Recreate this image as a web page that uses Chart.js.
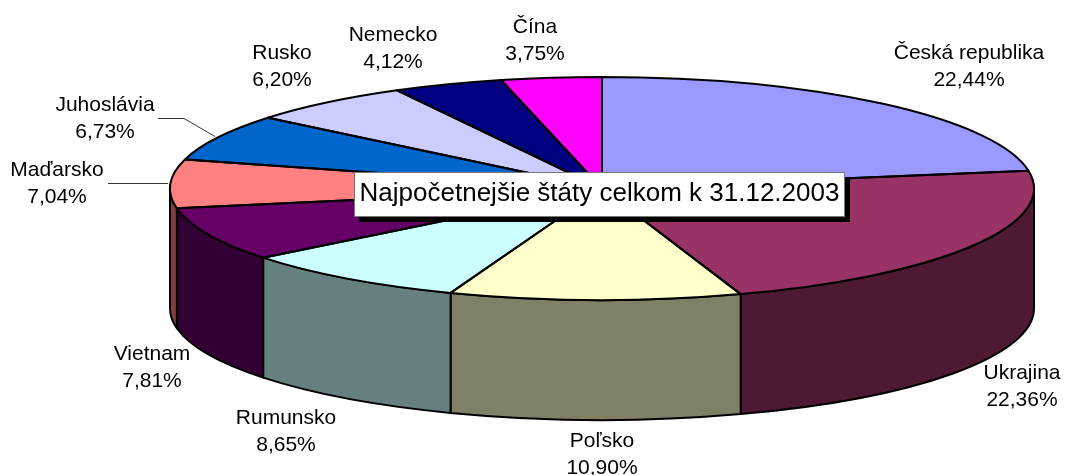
<!DOCTYPE html>
<html lang="sk">
<head>
<meta charset="utf-8">
<title>Najpočetnejšie štáty celkom k 31.12.2003</title>
<script src="https://cdn.jsdelivr.net/npm/chart.js@4"></script>
<style>
html,body{margin:0;padding:0;background:#fff;overflow:hidden}
canvas{display:block}
</style>
</head>
<body>
<canvas id="c" width="1068" height="475"></canvas>
<script>
const chartTitle = "Najpočetnejšie štáty celkom k 31.12.2003";
const categories = ["Česká republika","Ukrajina","Poľsko","Rumunsko","Vietnam","Maďarsko","Juhoslávia","Rusko","Nemecko","Čína"];
const shares = [22.44,22.36,10.90,8.65,7.81,7.04,6.73,6.20,4.12,3.75];
const topColors = ["#9999FF","#993366","#FFFFCC","#CCFFFF","#660066","#FF8080","#0066CC","#CCCCFF","#000080","#FF00FF"];
const wallColors = ["#4D4D80","#4D1933","#808066","#668080","#330033","#804040","#003366","#666680","#000040","#800080"];
const labelCentres = [[969,53],[1022,373],[602,441],[286,418],[152,354],[57,170],[105,105],[282,53],[393,35],[535,27]];
const leaderLines = [
  [[108,183],[168,183]],
  [[158,118],[184,118],[215,136]]
];

const pie = {cx:602, cy:188.5, rx:432, ry:111.5, depth:120};
const FONT = '"Liberation Sans", Arial, sans-serif';

const pie3d = {
  id:'pie3d',
  beforeDatasetsDraw(chart){
    const ctx = chart.ctx, arcs = chart.getDatasetMeta(0).data;
    ctx.save();
    ctx.lineWidth = 2; ctx.strokeStyle = '#000'; ctx.lineJoin = 'round';
    arcs.forEach((el,i)=>{
      const a = Math.max(el.startAngle,0), b = Math.min(el.endAngle,Math.PI);
      if (a >= b) return;
      ctx.beginPath();
      ctx.ellipse(el.x,pie.cy,pie.rx,pie.ry,0,a,b);
      ctx.ellipse(el.x,pie.cy+pie.depth,pie.rx,pie.ry,0,b,a,true);
      ctx.closePath();
      ctx.fillStyle = wallColors[i];
      ctx.fill(); ctx.stroke();
    });
    ctx.restore();
    const el = arcs[0];
    ctx.save();
    ctx.translate(0,pie.cy);
    ctx.scale(1,pie.ry/pie.rx);
    ctx.translate(0,-el.y);
  },
  afterDatasetsDraw(chart){
    const ctx = chart.ctx, arcs = chart.getDatasetMeta(0).data;
    ctx.restore();
    ctx.save();
    ctx.lineWidth = 2; ctx.strokeStyle = '#000'; ctx.lineJoin = 'round';
    arcs.forEach(el=>{
      ctx.beginPath();
      ctx.moveTo(el.x,pie.cy);
      ctx.ellipse(el.x,pie.cy,pie.rx,pie.ry,0,el.startAngle,el.endAngle);
      ctx.closePath();
      ctx.stroke();
    });
    ctx.restore();
  },
  afterDraw(chart){
    const ctx = chart.ctx;
    ctx.save();
    ctx.strokeStyle = '#333'; ctx.lineWidth = 1;
    leaderLines.forEach(pts=>{
      ctx.beginPath();
      pts.forEach((p,i)=> i ? ctx.lineTo(p[0],p[1]+.5) : ctx.moveTo(p[0],p[1]+.5));
      ctx.stroke();
    });
    ctx.fillStyle = '#000';
    ctx.font = '21px '+FONT;
    ctx.textAlign = 'center'; ctx.textBaseline = 'middle';
    categories.forEach((name,i)=>{
      const [x,y] = labelCentres[i];
      ctx.fillText(name,x,y);
      ctx.fillText(shares[i].toFixed(2).replace('.',',')+'%',x,y+27);
    });
    ctx.fillStyle = '#000';
    ctx.fillRect(359,177,491,45);
    ctx.fillStyle = '#fff';
    ctx.fillRect(354,172,491,45);
    ctx.strokeStyle = '#777';
    ctx.strokeRect(354.5,172.5,490,44);
    ctx.fillStyle = '#000';
    ctx.font = '26px '+FONT;
    ctx.fillText(chartTitle,599.5,194);
    ctx.restore();
  }
};

new Chart(document.getElementById('c'),{
  type:'pie',
  data:{labels:categories,datasets:[{data:shares,backgroundColor:topColors,borderWidth:0,clip:false}]},
  options:{
    responsive:false,
    animation:false,
    radius:pie.rx,
    layout:{padding:{left:2*pie.cx-1068}},
    plugins:{legend:{display:false},tooltip:{enabled:false},title:{display:false}}
  },
  plugins:[pie3d]
});
</script>
</body>
</html>
